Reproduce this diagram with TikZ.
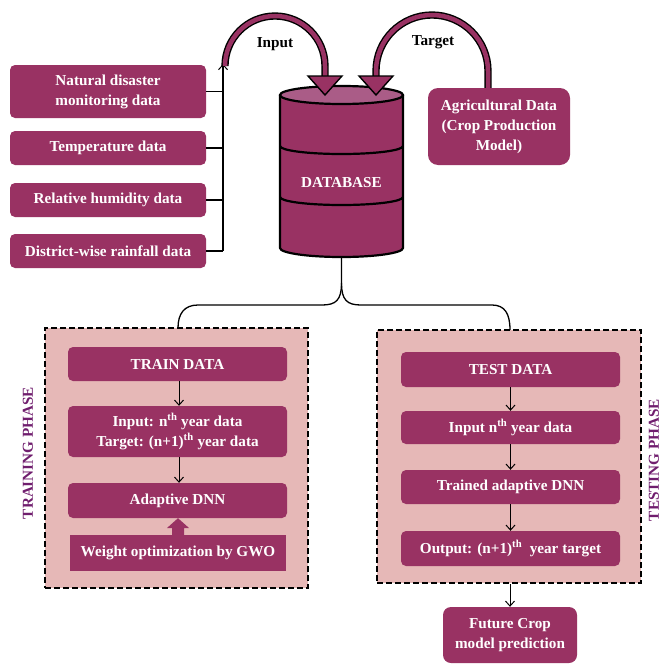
\documentclass[tikz,border=0pt]{standalone}
\usepackage{fontspec}
\setmainfont{Liberation Serif}
\usetikzlibrary{arrows.meta}
\definecolor{boxc}{HTML}{993263}
\definecolor{topc}{HTML}{AA5C87}
\definecolor{phasec}{HTML}{E6B8B7}
\definecolor{phtext}{HTML}{701E6E}
\tikzset{
  x=1pt, y=-1pt,
  txt/.style={font=\fontsize{15.2}{20}\selectfont\bfseries},
  databox/.style={txt, fill=boxc, text=white, rounded corners=5pt, align=center, inner sep=0pt},
  phasebox/.style={fill=phasec, draw=black, line width=1.5pt, dash pattern=on 6pt off 3pt, inner sep=0pt},
  phaselabel/.style={txt, text=phtext, rotate=90, inner sep=0pt},
  flow/.style={line width=1pt, -{Straight Barb[length=5pt,width=9pt,line width=1pt]}},
  link/.style={line width=1.3pt},
  bigarrow/.style={line width=1.4pt, draw=black, double=boxc, double distance=4.5pt},
  bighead/.style={fill=boxc, draw=black, line width=1.4pt, line join=miter},
}
\begin{document}
\begin{tikzpicture}
\useasboundingbox (0,0) rectangle (662,664);

% left source boxes
\node[databox, minimum width=196pt, minimum height=53pt] (b1) at (108,91.5) {Natural disaster\\monitoring data};
\node[databox, minimum width=196pt, minimum height=34pt] (b2) at (108,148) {Temperature data};
\node[databox, minimum width=196pt, minimum height=34pt] (b3) at (108,200) {Relative humidity data};
\node[databox, minimum width=196pt, minimum height=34pt] (b4) at (108,251) {District-wise rainfall data};

\coordinate (inTop) at (223,64);
\coordinate (inBot) at (223,251);
\draw[link] (b1.east) -- (b1.east -| inTop);
\draw[link] (b2.east) -- (b2.east -| inTop);
\draw[link] (b3.east) -- (b3.east -| inTop);
\draw[link] (b4.east) -- (inBot);
\draw[flow, line width=1.3pt] (inBot) -- (inTop);

% agricultural box
\node[databox, rounded corners=10pt, minimum width=142pt, minimum height=77pt] (agri) at (499,126.5) {Agricultural Data\\(Crop Production\\Model)};

% database cylinder
\coordinate (dbTop) at (341.5,95);
\coordinate (dbBot) at (341.5,257);
\fill[boxc] (280,95) -- (280,248) arc[start angle=180,end angle=360,x radius=61.5pt,y radius=9pt] -- (403,95) -- cycle;
\draw[line width=2.2pt] (280,95) -- (280,248) arc[start angle=180,end angle=360,x radius=61.5pt,y radius=9pt] -- (403,95);
\draw[line width=2.2pt] (280,146) arc[start angle=180,end angle=360,x radius=61.5pt,y radius=8pt];
\draw[line width=2.2pt] (280,197) arc[start angle=180,end angle=360,x radius=61.5pt,y radius=8pt];
\draw[line width=2.2pt, fill=topc] (dbTop) ellipse[x radius=61.5pt, y radius=9pt];
\node[txt, text=white] (db) at (341.5,183) {DATABASE};

% input big arrow
\draw[bigarrow] (225,66) arc[start angle=180,end angle=0,radius=50pt] -- (325,78);
\draw[bighead] (308,76) -- (342,76) -- (325,95) -- cycle;
\node[txt] (inlbl) at (275,44) {Input};

% target big arrow
\draw[bigarrow] (agri.north -| 488,0) -- (488,71) arc[start angle=0,end angle=180,radius=56pt] -- (376,78);
\draw[bighead] (359,76) -- (393,76) -- (376,95) -- cycle;
\node[txt] (tglbl) at (433,42) {Target};

% phase boxes
\node[phasebox, minimum width=263pt, minimum height=260pt] (train) at (176.5,458) {};
\node[phasebox, minimum width=264pt, minimum height=253pt] (test) at (509,456.5) {};

% brace from database
\draw[link] (dbBot) -- (341.5,283)
  .. controls (341.5,300) and (336,305) .. (322,305) -- (198,305)
  .. controls (184,305) and (178,314) .. (178,328);
\draw[link] (341.5,283)
  .. controls (341.5,300) and (347,305) .. (361,305) -- (492,305)
  .. controls (505,305) and (510,314) .. (510,330);

% training phase
\node[databox, minimum width=219pt, minimum height=34pt] (trd) at (177.5,364) {TRAIN DATA};
\node[databox, minimum width=219pt, minimum height=51pt] (tri) at (177.5,431.5) {Input: n\textsuperscript{th} year data\\Target: (n+1)\textsuperscript{th} year data};
\node[databox, minimum width=219pt, minimum height=35pt] (adnn) at (177.5,500.5) {Adaptive DNN};
\node[databox, rounded corners=0pt, minimum width=216pt, minimum height=36pt] (gwo) at (178,553) {Weight optimization by GWO};
\draw[flow] (trd.south -| 179,0) -- (tri.north -| 179,0);
\draw[flow] (tri.south -| 179,0) -- (adnn.north -| 179,0);
\fill[boxc] (gwo.north -| 172,0) -- (172,528) -- (167,528) -- (adnn.south -| 178,0) -- (189,528) -- (184,528) -- (gwo.north -| 184,0) -- cycle;
\node[phaselabel] (trlbl) at (28,453) {TRAINING PHASE};

% testing phase
\node[databox, minimum width=219pt, minimum height=35pt] (ted) at (510.5,369.5) {TEST DATA};
\node[databox, minimum width=219pt, minimum height=33pt] (tei) at (510.5,427.5) {Input n\textsuperscript{th} year data};
\node[databox, minimum width=219pt, minimum height=34pt] (tdnn) at (510.5,487) {Trained adaptive DNN};
\node[databox, minimum width=219pt, minimum height=35pt] (tout) at (510.5,548.5) {Output: (n+1)\textsuperscript{th}\ \ year target};
\draw[flow] (ted) -- (tei);
\draw[flow] (tei) -- (tdnn);
\draw[flow] (tdnn) -- (tout);
\node[databox, rounded corners=8pt, minimum width=134pt, minimum height=56pt] (fut) at (510,635) {Future Crop\\model prediction};
\draw[flow] (test.south -| fut.north) -- (fut.north);
\node[phaselabel] (telbl) at (654,460) {TESTING PHASE};
\end{tikzpicture}
\end{document}
